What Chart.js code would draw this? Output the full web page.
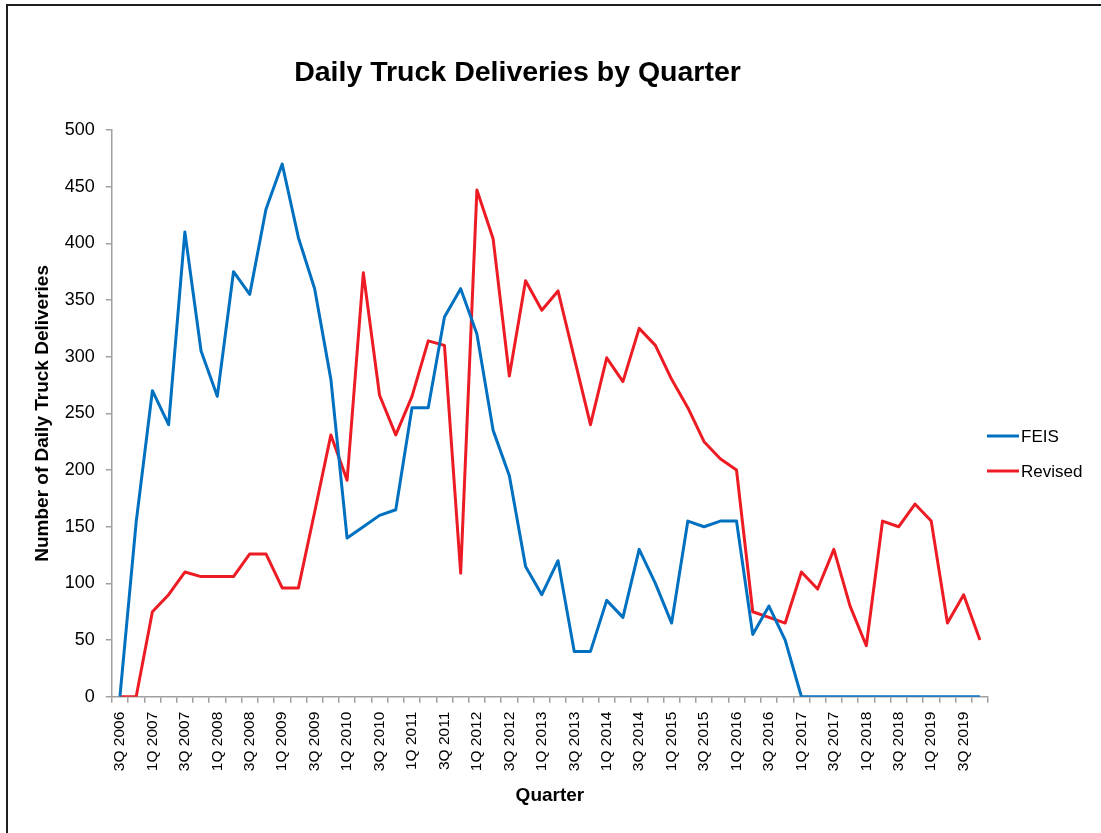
<!DOCTYPE html>
<html>
<head>
<meta charset="utf-8">
<script src="https://cdn.jsdelivr.net/npm/chart.js@4/dist/chart.umd.min.js"></script>
<style>
  html, body { margin: 0; padding: 0; background: #fff; overflow: hidden; }
  #wrap { position: relative; width: 1101px; height: 833px; }
  #frame { position: absolute; left: 6px; top: 4px; width: 1120px; height: 860px;
           border-left: 2px solid #1e1e1e; border-top: 2px solid #1e1e1e; pointer-events: none; }
  canvas { position: absolute; left: 0; top: 0; }
</style>
</head>
<body>
<div id="wrap">
  <canvas id="c" width="1101" height="833"></canvas>
  <div id="frame"></div>
</div>
<script>
const chartTitle = 'Daily Truck Deliveries by Quarter';
const xTitle = 'Quarter';
const yTitle = 'Number of Daily Truck Deliveries';
const seriesNames = ['FEIS', 'Revised'];

const quarters = [
  '3Q 2006','4Q 2006',
  '1Q 2007','2Q 2007','3Q 2007','4Q 2007',
  '1Q 2008','2Q 2008','3Q 2008','4Q 2008',
  '1Q 2009','2Q 2009','3Q 2009','4Q 2009',
  '1Q 2010','2Q 2010','3Q 2010','4Q 2010',
  '1Q 2011','2Q 2011','3Q 2011','4Q 2011',
  '1Q 2012','2Q 2012','3Q 2012','4Q 2012',
  '1Q 2013','2Q 2013','3Q 2013','4Q 2013',
  '1Q 2014','2Q 2014','3Q 2014','4Q 2014',
  '1Q 2015','2Q 2015','3Q 2015','4Q 2015',
  '1Q 2016','2Q 2016','3Q 2016','4Q 2016',
  '1Q 2017','2Q 2017','3Q 2017','4Q 2017',
  '1Q 2018','2Q 2018','3Q 2018','4Q 2018',
  '1Q 2019','2Q 2019','3Q 2019','4Q 2019'
];

const feis = [
  0, 154,
  270, 240, 410, 305,
  265, 375, 355, 430,
  470, 405, 360, 280,
  140, 150, 160, 165,
  255, 255, 335, 360,
  320, 235, 195, 115,
  90, 120, 40, 40,
  85, 70, 130, 100,
  65, 155, 150, 155,
  155, 55, 80, 50,
  0, 0, 0, 0,
  0, 0, 0, 0,
  0, 0, 0, 0
];

const revised = [
  0, 0,
  75, 90, 110, 106,
  106, 106, 126, 126,
  96, 96, 163, 231,
  191, 374, 266, 231,
  265, 314, 310, 109,
  447, 404, 283, 367,
  341, 358, 299, 240,
  299, 278, 325, 310,
  280, 255, 225, 210,
  200, 75, 70, 65,
  110, 95, 130, 80,
  45, 155, 150, 170,
  155, 65, 90, 50
];

const yTicks = [0, 50, 100, 150, 200, 250, 300, 350, 400, 450, 500];

const FONT = '"Liberation Sans", Arial, Helvetica, sans-serif';
const BLUE = '#0070C0';
const RED = '#ED1C24';
const AXIS = '#a0a0a0';

const sheetTitle = {
  id: 'sheetTitle',
  afterDraw(chart) {
    const ctx = chart.ctx;
    ctx.save();
    ctx.font = 'bold 28.5px ' + FONT;
    ctx.fillStyle = '#000';
    ctx.textAlign = 'center';
    ctx.textBaseline = 'alphabetic';
    ctx.fillText(chartTitle, 517.5, 81);
    ctx.restore();
  }
};

const sideLegend = {
  id: 'sideLegend',
  afterDraw(chart) {
    const ctx = chart.ctx;
    const x0 = chart.chartArea.right - 1;
    ctx.save();
    ctx.font = '17px ' + FONT;
    ctx.textAlign = 'left';
    ctx.textBaseline = 'middle';
    chart.data.datasets.forEach((ds, i) => {
      const y = 436 + i * 35;
      ctx.strokeStyle = ds.borderColor;
      ctx.lineWidth = 3;
      ctx.beginPath();
      ctx.moveTo(x0, y);
      ctx.lineTo(x0 + 32, y);
      ctx.stroke();
      ctx.fillStyle = '#000';
      ctx.fillText(ds.label, x0 + 34, y + 1);
    });
    ctx.restore();
  }
};

new Chart(document.getElementById('c'), {
  type: 'line',
  data: {
    labels: quarters,
    datasets: [
      { label: seriesNames[0], data: feis, borderColor: BLUE, backgroundColor: BLUE,
        borderWidth: 3, pointRadius: 0, pointHoverRadius: 0, tension: 0,
        borderJoinStyle: 'round', fill: false },
      { label: seriesNames[1], data: revised, borderColor: RED, backgroundColor: RED,
        borderWidth: 3, pointRadius: 0, pointHoverRadius: 0, tension: 0,
        borderJoinStyle: 'round', fill: false }
    ]
  },
  options: {
    responsive: false,
    animation: false,
    devicePixelRatio: 1,
    layout: { padding: { left: 31, right: 113, top: 130, bottom: 26 } },
    plugins: {
      legend: { display: false },
      title: { display: false },
      tooltip: { enabled: false }
    },
    scales: {
      x: {
        type: 'category',
        offset: true,
        grid: { display: true, offset: true, drawOnChartArea: false, drawTicks: true,
                tickLength: 6, color: AXIS, lineWidth: 1.5 },
        border: { display: true, color: AXIS, width: 1.5 },
        ticks: {
          autoSkip: false, maxRotation: 90, minRotation: 90, padding: 9,
          color: '#000', font: { family: FONT, size: 15.5 },
          callback: function(value, index) { return index % 2 === 0 ? quarters[index] : ''; }
        },
        title: { display: true, text: xTitle, color: '#000',
                 font: { family: FONT, size: 19, weight: 'bold' },
                 padding: { top: 4, bottom: 0 } }
      },
      y: {
        min: 0, max: 500,
        afterBuildTicks: function(scale) { scale.ticks = yTicks.map(v => ({ value: v })); },
        grid: { display: true, drawOnChartArea: false, drawTicks: true,
                tickLength: 6, color: AXIS, lineWidth: 1.5 },
        border: { display: true, color: AXIS, width: 1.5 },
        ticks: { padding: 11, color: '#000', font: { family: FONT, size: 18 } },
        title: { display: true, text: yTitle, color: '#000',
                 font: { family: FONT, size: 19, weight: 'bold' },
                 padding: { top: 0, bottom: 0 } }
      }
    }
  },
  plugins: [sheetTitle, sideLegend]
});
</script>
</body>
</html>
